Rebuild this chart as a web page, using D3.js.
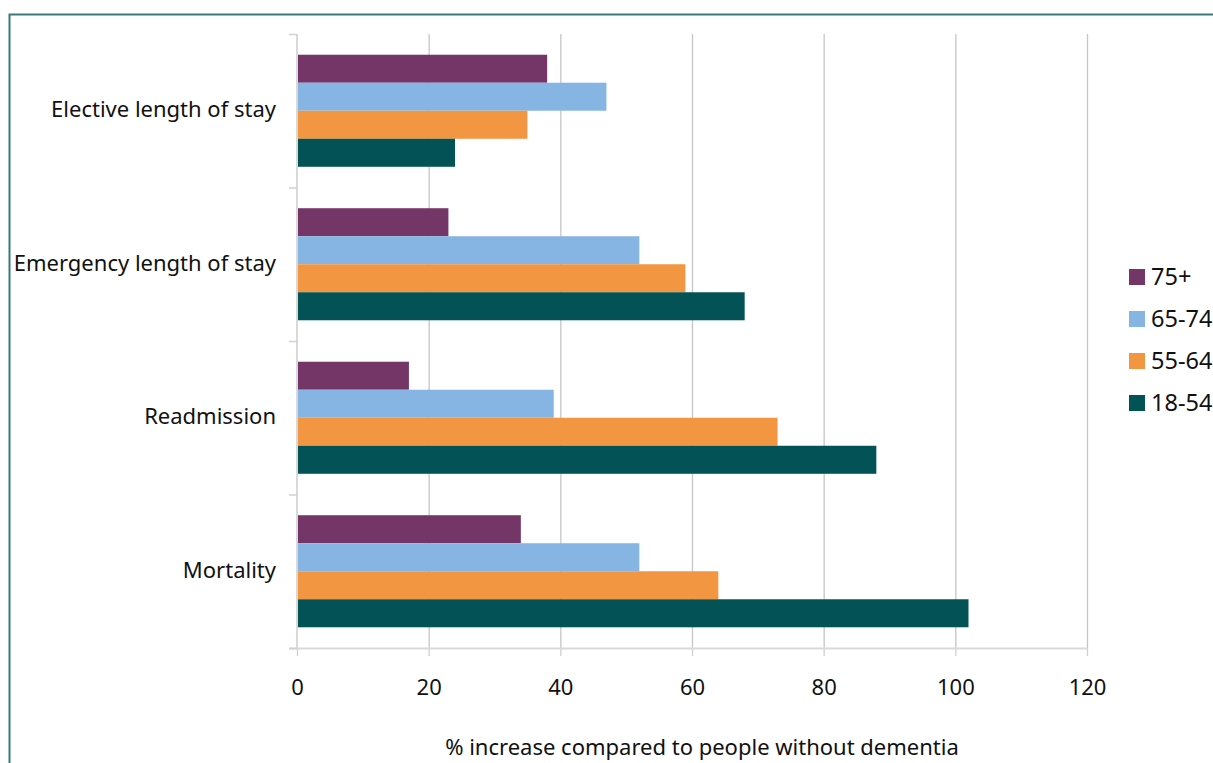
<!DOCTYPE html>
<html>
<head>
<meta charset="utf-8">
<script src="https://cdn.jsdelivr.net/npm/d3@7"></script>
<style>
  html, body { margin: 0; padding: 0; background: #fff; }
  svg { display: block; font-family: "Noto Sans", "Open Sans", sans-serif; }
</style>
</head>
<body>
<svg id="chart" width="1213" height="763"></svg>
<script>
// Outcome measures, top to bottom
const categories = ["Elective length of stay", "Emergency length of stay", "Readmission", "Mortality"];
// Age groups, drawn top to bottom within each measure
const ageGroups = ["75+", "65-74", "55-64", "18-54"];
const groupColors = ["#743667", "#86b5e4", "#f29642", "#035256"];
// % increase per age group, in category order
const values75plus = [38, 23, 17, 34];
const values65to74 = [47, 52, 39, 52];
const values55to64 = [35, 59, 73, 64];
const values18to54 = [24, 68, 88, 102];
const xTicks = [0, 20, 40, 60, 80, 100, 120];
const xTitle = "% increase compared to people without dementia";

const seriesValues = [values75plus, values65to74, values55to64, values18to54];
const rows = [];
categories.forEach((c, ci) => {
  ageGroups.forEach((g, gi) => rows.push({ category: c, group: g, value: seriesValues[gi][ci] }));
});

const svg = d3.select("#chart");
const W = 1213, H = 763;
const plot = { left: 297, right: 1087, top: 34, bottom: 648 };
const FS = 22;

// frame
svg.append("rect")
  .attr("x", 9.5).attr("y", 14.5)
  .attr("width", W + 20).attr("height", H + 20)
  .attr("fill", "#fff").attr("stroke", "#3b7878").attr("stroke-width", 2);

const x = d3.scaleLinear().domain([0, 120]).range([plot.left, plot.right]);
const y = d3.scaleBand().domain(categories).range([plot.top, plot.bottom])
  .paddingInner(0.27).paddingOuter(0.135);
const yInner = d3.scaleBand().domain(ageGroups).range([0, y.bandwidth()]);
const color = d3.scaleOrdinal().domain(ageGroups).range(groupColors);

// vertical gridlines
svg.append("g")
  .selectAll("line")
  .data(xTicks.filter(t => t > 0))
  .join("line")
  .attr("x1", d => x(d) + 0.5).attr("x2", d => x(d) + 0.5)
  .attr("y1", plot.top).attr("y2", plot.bottom)
  .attr("stroke", "#c6c6c6").attr("stroke-width", 1.3);

// bars
svg.append("g")
  .selectAll("rect")
  .data(rows)
  .join("rect")
  .attr("x", x(0))
  .attr("y", d => y(d.category) + yInner(d.group))
  .attr("width", d => x(d.value) - x(0))
  .attr("height", yInner.bandwidth())
  .attr("fill", d => color(d.group));

// x axis
const xAxis = svg.append("g")
  .attr("transform", `translate(0,${plot.bottom})`)
  .call(d3.axisBottom(x).tickValues(xTicks).tickSize(8).tickPadding(23).tickFormat(d3.format("d")));
xAxis.select(".domain").remove();
xAxis.append("line")
  .attr("x1", plot.left - 8).attr("x2", plot.right)
  .attr("y1", 0.5).attr("y2", 0.5)
  .attr("stroke", "#d9d9d9").attr("stroke-width", 2);
xAxis.selectAll(".tick line").attr("stroke", "#d0d0d0").attr("stroke-width", 1.3);
xAxis.selectAll(".tick text")
  .attr("fill", "#111").attr("font-size", FS)
  .attr("font-family", "'Noto Sans', sans-serif");

// y axis
const yBounds = categories.map(c => y(c) - y.step() * y.paddingInner() / 2).concat([plot.bottom]);
yBounds[0] = plot.top;
const yAxis = svg.append("g");
yAxis.append("line")
  .attr("x1", plot.left).attr("x2", plot.left)
  .attr("y1", plot.top).attr("y2", plot.bottom)
  .attr("stroke", "#d9d9d9").attr("stroke-width", 2);
yAxis.selectAll("line.tk")
  .data(yBounds)
  .join("line").attr("class", "tk")
  .attr("x1", plot.left - 8).attr("x2", plot.left)
  .attr("y1", d => d + 0.5).attr("y2", d => d + 0.5)
  .attr("stroke", "#d0d0d0").attr("stroke-width", 1.5);
yAxis.selectAll("text")
  .data(categories)
  .join("text")
  .attr("x", 276)
  .attr("y", d => y(d) + y.bandwidth() / 2)
  .attr("dy", "0.3em")
  .attr("text-anchor", "end")
  .attr("font-size", FS)
  .attr("fill", "#111")
  .text(d => d);

// x axis title
svg.append("text")
  .attr("x", 702).attr("y", 755)
  .attr("text-anchor", "middle")
  .attr("font-size", FS).attr("fill", "#111")
  .text(xTitle);

// legend
const legend = svg.append("g").attr("transform", "translate(1129,269)");
const li = legend.selectAll("g").data(ageGroups).join("g")
  .attr("transform", (d, i) => `translate(0,${i * 42})`);
li.append("rect").attr("width", 16).attr("height", 16).attr("fill", d => color(d));
li.append("text").attr("x", 22).attr("y", 8).attr("dy", "0.36em")
  .attr("font-size", 23.5).attr("fill", "#111").text(d => d);
</script>
</body>
</html>
